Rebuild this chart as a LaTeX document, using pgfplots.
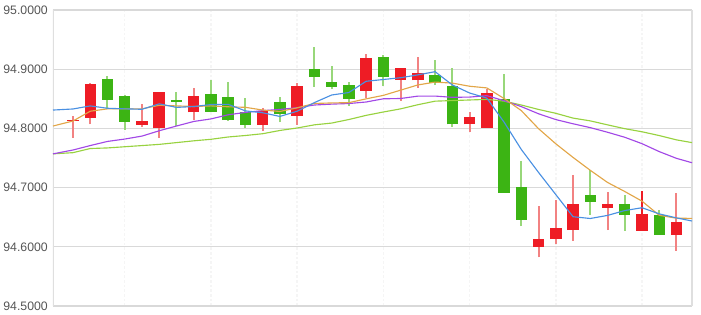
\documentclass[border=0pt]{standalone}
\usepackage{pgfplots}
\pgfplotsset{compat=1.18}
\usepackage{pgfplotstable}
\usepackage{fontspec}
\setmainfont{Liberation Sans}
\usetikzlibrary{calc}
\definecolor{redbody}{RGB}{238,28,37}
\definecolor{greenbody}{RGB}{60,180,20}
\definecolor{redwick}{RGB}{242,130,130}
\definecolor{greenwick}{RGB}{152,215,122}
\definecolor{maBlue}{RGB}{74,144,226}
\definecolor{maOrange}{RGB}{226,166,72}
\definecolor{maPurple}{RGB}{162,72,230}
\definecolor{maGreen}{RGB}{152,210,64}
\definecolor{labelgray}{RGB}{85,85,85}

\pgfplotstableread{
x lo hi
0 94.812 94.815
1 94.818 94.875
4 94.806 94.8125
5 94.800 94.861
7 94.827 94.855
11 94.806 94.829
13 94.821 94.872
17 94.864 94.919
19 94.882 94.902
20 94.881 94.894
23 94.807 94.819
24 94.801 94.859
27 94.600 94.613
28 94.613 94.632
29 94.628 94.672
31 94.666 94.672
33 94.627 94.656
35 94.620 94.642
}\redbodies

\pgfplotstableread{
x lo hi
2 94.848 94.883
3 94.811 94.855
6 94.845 94.848
8 94.828 94.858
9 94.814 94.853
10 94.806 94.828
12 94.824 94.845
14 94.887 94.900
15 94.870 94.878
16 94.850 94.873
18 94.887 94.921
21 94.877 94.890
22 94.807 94.872
25 94.691 94.849
26 94.646 94.701
30 94.676 94.6875
32 94.654 94.672
34 94.620 94.654
}\greenbodies

\pgfplotstableread{
x lo hi
0 94.784 94.821
1 94.807 94.877
4 94.802 94.841
5 94.784 94.861
7 94.814 94.868
11 94.796 94.834
13 94.806 94.876
17 94.851 94.926
19 94.847 94.902
20 94.869 94.921
23 94.794 94.827
24 94.801 94.867
27 94.582 94.669
28 94.604 94.679
29 94.610 94.721
31 94.628 94.693
35 94.593 94.691
}\redwicks

\pgfplotstableread{
x lo hi
33 94.627 94.694
}\darkwicks

\pgfplotstableread{
x lo hi
2 94.833 94.889
3 94.797 94.856
6 94.804 94.861
8 94.827 94.882
9 94.813 94.878
10 94.801 94.851
12 94.810 94.853
14 94.870 94.937
15 94.866 94.905
16 94.838 94.878
18 94.872 94.924
21 94.873 94.916
22 94.803 94.902
25 94.691 94.892
26 94.635 94.745
30 94.654 94.730
32 94.627 94.6875
34 94.620 94.662
}\greenwicks

\pgfplotstableread{
x blue orange purple green
-1.16 94.831 94.804 94.757 94.757
0 94.8328 94.8125 94.7635 94.759
1 94.838 94.829 94.771 94.766
2 94.834 94.833 94.778 94.767
3 94.833 94.833 94.782 94.769
4 94.8323 94.833 94.787 94.771
5 94.8415 94.839 94.796 94.773
6 94.8355 94.838 94.804 94.776
7 94.8369 94.837 94.8117 94.779
8 94.8403 94.838 94.816 94.7816
9 94.8406 94.8365 94.823 94.7855
10 94.8296 94.8356 94.827 94.788
11 94.8264 94.831 94.830 94.791
12 94.8202 94.8286 94.832 94.7965
13 94.829 94.8347 94.835 94.8007
14 94.8436 94.8421 94.8395 94.806
15 94.8564 94.843 94.841 94.809
16 94.8606 94.8435 94.842 94.815
17 94.8796 94.8499 94.8446 94.822
18 94.8826 94.8558 94.850 94.8277
19 94.8856 94.8646 94.8505 94.833
20 94.8904 94.8734 94.8545 94.840
21 94.8958 94.8782 94.8546 94.846
22 94.8734 94.8765 94.8525 94.847
23 94.8598 94.8712 94.8529 94.848
24 94.8512 94.8684 94.8553 94.849
25 94.8106 94.8505 94.8468 94.846
26 94.7644 94.8301 94.8368 94.8395
27 94.7256 94.7995 94.8247 94.832
28 94.6882 94.774 94.8149 94.8255
29 94.6508 94.751 94.8078 94.8174
30 94.6478 94.7292 94.8013 94.8127
31 94.653 94.7087 94.7935 94.806
32 94.6612 94.6934 94.785 94.7995
33 94.666 94.6771 94.7742 94.7943
34 94.6556 94.6532 94.7608 94.7879
35 94.6488 94.6483 94.7494 94.7806
35.9 94.6436 94.648 94.742 94.776
}\malines

\pgfplotsset{candle/.style 2 args={draw=none, no markers, forget plot,
  error bars/.cd, y dir=plus, y explicit, error mark=none,
  error bar style={solid, line width=#1, draw=#2}}}

\begin{document}
\begin{tikzpicture}
\begin{axis}[
  scale only axis, width=479.25pt, height=222pt,
  xmin=-1.16, xmax=35.9, ymin=94.5, ymax=95.0,
  ytick={94.5,94.6,94.7,94.8,94.9,95.0},
  yticklabel style={/pgf/number format/fixed, /pgf/number format/fixed zerofill,
    /pgf/number format/precision=4, /pgf/number format/assume math mode=true,
    font=\fontsize{9.2pt}{11pt}\selectfont, text=labelgray, anchor=east, inner sep=0pt, xshift=-3.75pt},
  xtick={3,8,13,18,23,28,33}, xticklabels={},
  major tick length=0pt,
  xmajorgrids, ymajorgrids,
  major x grid style={dash pattern=on 2pt off 1.5pt, line width=1.1pt, color=gray!8},
  major y grid style={solid, line width=0.8pt, color=gray!30},
  axis line style={draw=none},
  extra x ticks={35.9}, extra x tick labels={},
  extra x tick style={major x grid style={solid, line width=0.8pt, color=gray!25}},
]
\coordinate (SW) at (rel axis cs:0,0);
\coordinate (NE) at (rel axis cs:1,1);
\draw[gray!25, line width=1.5pt] (rel axis cs:0,0) -- (rel axis cs:0,1);

\addplot[candle={1.5pt}{redwick}] table[x=x, y=lo, y error expr=\thisrow{hi}-\thisrow{lo}] \redwicks;
\addplot[candle={1.5pt}{redbody}] table[x=x, y=lo, y error expr=\thisrow{hi}-\thisrow{lo}] \darkwicks;
\addplot[candle={1.5pt}{greenwick}] table[x=x, y=lo, y error expr=\thisrow{hi}-\thisrow{lo}] \greenwicks;
\addplot[candle={8.6pt}{redbody}] table[x=x, y=lo, y error expr=\thisrow{hi}-\thisrow{lo}] \redbodies;
\addplot[candle={8.6pt}{greenbody}] table[x=x, y=lo, y error expr=\thisrow{hi}-\thisrow{lo}] \greenbodies;

\addplot[maGreen, line width=0.85pt, mark=none] table[x=x, y=green] \malines;
\addplot[maPurple, line width=0.85pt, mark=none] table[x=x, y=purple] \malines;
\addplot[maOrange, line width=0.85pt, mark=none] table[x=x, y=orange] \malines;
\addplot[maBlue, line width=0.85pt, mark=none] table[x=x, y=blue] \malines;
\end{axis}
\pgfresetboundingbox
\path[use as bounding box] ($(SW)+(-39.75pt,-6.75pt)$) rectangle ($(NE)+(6.75pt,7.5pt)$);
\end{tikzpicture}
\end{document}
